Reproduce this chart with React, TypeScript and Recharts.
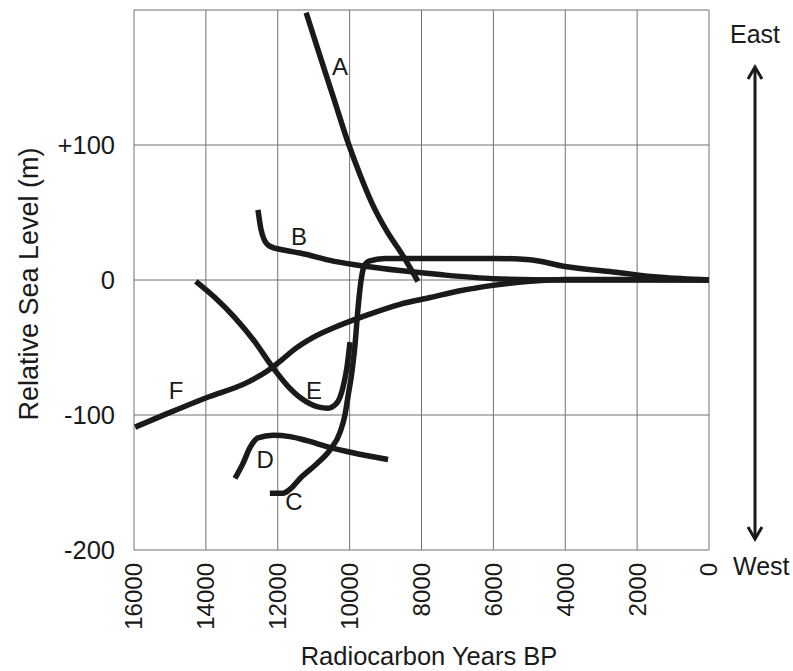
import { LineChart, Line, XAxis, YAxis, CartesianGrid, ReferenceDot, Customized } from 'recharts';

// sea level curves, [years BP, metres]
const curveA: [number, number][] = [[11210, 198], [10850, 168], [10460, 136], [10020, 100], [9710, 78], [9380, 57], [8960, 36], [8540, 19], [8100, -1]];
const curveB: [number, number][] = [[12550, 52], [12470, 38], [12380, 30], [12220, 25], [11800, 22], [11380, 20], [10460, 14], [9520, 10], [8600, 7], [7490, 4], [6010, 1], [4150, 0], [1920, 0], [0, 0]];
const curveC: [number, number][] = [[12220, -158], [11850, -158], [11660, -155], [11380, -147], [10910, -136], [10550, -126], [10270, -113], [10130, -100], [10050, -87], [9930, -67], [9850, -48], [9770, -22], [9680, 0], [9600, 10], [9460, 14], [9020, 16], [8040, 16], [6010, 16], [4980, 15], [4010, 10], [2670, 6], [1360, 2], [0, 0]];
const curveD: [number, number][] = [[13190, -147], [12970, -136], [12770, -124], [12550, -117], [12130, -115], [11660, -116], [11190, -119], [10550, -124], [9910, -128], [8930, -133]];
const curveE: [number, number][] = [[14280, -1], [13750, -13], [13190, -28], [12630, -46], [12160, -64], [11740, -78], [11330, -88], [10880, -94], [10600, -95], [10350, -91], [10180, -79], [10070, -64], [9990, -46]];
const curveF: [number, number][] = [[15970, -109], [15080, -99], [13970, -87], [12860, -76], [12270, -67], [11880, -59], [11520, -51], [11050, -43], [10410, -35], [9520, -26], [8600, -18], [7760, -13], [6930, -8], [6010, -4], [4980, -1], [4010, 0.4], [1920, 0.4], [0, 0]];

// curve letters and where they sit
const curveNames = ['A', 'B', 'C', 'D', 'E', 'F'];
const nameYears = [10270, 11410, 11550, 12350, 10990, 14830];
const nameLevels = [158, 32, -164, -133, -82, -82];

const yearTicks = [16000, 14000, 12000, 10000, 8000, 6000, 4000, 2000, 0];
const levelTicks = [-200, -100, 0, 100, 200];

const FONT = '"Liberation Sans", Arial, sans-serif';
const INK = '#1a1a1a';

const toPoints = (pts: [number, number][]) => pts.map(([year, level]) => ({ year, level }));
const curves = [curveA, curveB, curveC, curveD, curveE, curveF].map(toPoints);

const LevelTick = (props: any) => {
  const { x, y, payload } = props;
  const v = payload.value;
  if (v === 200) return null;
  const text = v > 0 ? `+${v}` : `${v}`;
  return (
    <text x={x} y={y} dy="0.35em" textAnchor="end" fontSize={25.5} fontFamily={FONT} fill={INK}>
      {text}
    </text>
  );
};

const YearTick = (props: any) => {
  const { x, y, payload } = props;
  return (
    <text x={x} y={y} dy="0.35em" textAnchor="end" fontSize={24} fontFamily={FONT} fill={INK}
      transform={`rotate(-90, ${x}, ${y})`}>
      {payload.value}
    </text>
  );
};

// axis titles and the East / West arrow beside the plot
const Decorations = () => (
  <g fontFamily={FONT} fill={INK}>
    <text x={29} y={284} dy="0.35em" textAnchor="middle" fontSize={27} transform="rotate(-90, 29, 284)">
      Relative Sea Level (m)
    </text>
    <text x={429} y={665} textAnchor="middle" fontSize={25.5}>Radiocarbon Years BP</text>
    <text x={755} y={43} textAnchor="middle" fontSize={25}>East</text>
    <text x={733} y={575} textAnchor="start" fontSize={25}>West</text>
    <line x1={755} y1={68} x2={755} y2={537} stroke={INK} strokeWidth={3} />
    <polyline points="748,79 755,67 762,79" fill="none" stroke={INK} strokeWidth={3} />
    <polyline points="748,527 755,539 762,527" fill="none" stroke={INK} strokeWidth={3} />
  </g>
);

export default function App() {
  return (
    <div style={{ position: 'absolute', left: 0, top: 0, width: 793, height: 671, background: '#fff' }}>
      <LineChart width={793} height={671} margin={{ top: 10, right: 84, bottom: 0, left: 0 }}>
        <CartesianGrid stroke="#707070" strokeWidth={1} />
        <XAxis
          dataKey="year"
          type="number"
          domain={[0, 16000]}
          ticks={yearTicks}
          reversed
          allowDataOverflow
          height={121}
          axisLine={false}
          tickLine={false}
          tickSize={0}
          tickMargin={13}
          tick={<YearTick />}
          interval={0}
        />
        <YAxis
          dataKey="level"
          type="number"
          domain={[-200, 200]}
          ticks={levelTicks}
          allowDataOverflow
          width={134}
          axisLine={false}
          tickLine={false}
          tickSize={0}
          tickMargin={19}
          tick={<LevelTick />}
          interval={0}
        />
        {curves.map((data, i) => (
          <Line
            key={curveNames[i]}
            data={data}
            dataKey="level"
            type="monotone"
            stroke={INK}
            strokeWidth={5.5}
            strokeLinecap="butt"
            dot={false}
            activeDot={false}
            isAnimationActive={false}
          />
        ))}
        {curveNames.map((name, i) => (
          <ReferenceDot
            key={`lbl-${name}`}
            x={nameYears[i]}
            y={nameLevels[i]}
            r={0}
            fill="none"
            stroke="none"
            label={{ value: name, position: 'center', fontSize: 24, fill: INK, fontFamily: FONT }}
          />
        ))}
        <Customized component={Decorations} />
      </LineChart>
    </div>
  );
}
